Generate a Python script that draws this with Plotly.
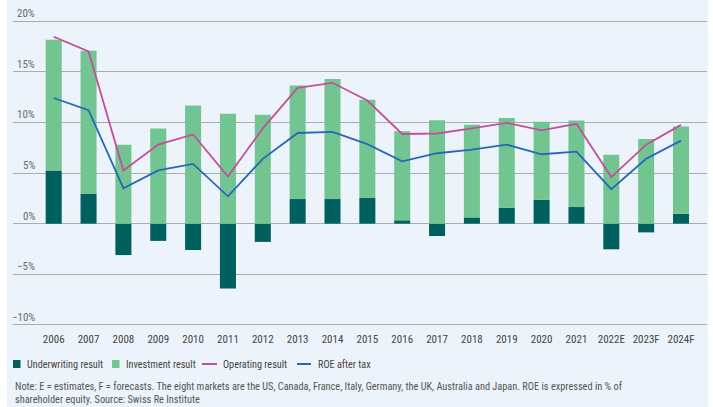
import plotly.graph_objects as go

years = ["2006", "2007", "2008", "2009", "2010", "2011", "2012", "2013", "2014", "2015",
         "2016", "2017", "2018", "2019", "2020", "2021", "2022E", "2023F", "2024F"]
underwriting = [5.25, 2.96, -3.1, -1.7, -2.6, -6.4, -1.8, 2.43, 2.43, 2.53,
                0.33, -1.22, 0.62, 1.57, 2.36, 1.64, -2.53, -0.86, 0.98]
investment = [12.9, 14.1, 7.8, 9.4, 11.65, 10.85, 10.75, 11.2, 11.85, 9.7,
              8.8, 10.2, 9.15, 8.85, 7.7, 8.55, 6.8, 8.35, 8.6]
operating = [18.45, 17.0, 5.25, 7.8, 8.8, 4.65, 9.4, 13.4, 13.9, 12.15,
             8.85, 8.9, 9.4, 9.95, 9.2, 9.85, 4.6, 7.8, 9.75]
roe = [12.4, 11.2, 3.5, 5.25, 5.9, 2.7, 6.4, 8.95, 9.05, 7.85,
       6.15, 6.95, 7.3, 7.8, 6.85, 7.1, 3.4, 6.4, 8.2]

y_ticks = [20, 15, 10, 5, 0, -5, -10]
y_tick_labels = ["20%", "15%", "10%", "5%", "0%", "\u22125%", "\u221210%"]

series_names = ["Underwriting result", "Investment result", "Operating result", "ROE after tax"]
note = ("Note: E = estimates, F = forecasts. The eight markets are the US, Canada, France, Italy, "
        "Germany, the UK, Australia and Japan. ROE is expressed in % of<br>"
        "shareholder equity. Source: Swiss Re Institute")

C_UW = "#00605D"
C_INV = "#72C591"
C_OP = "#C2509C"
C_ROE = "#2469B8"
BG = "#ECF3FB"
FONT = "Roboto Condensed, Liberation Sans Narrow, Arial Narrow, sans-serif"

W, H = 713, 407
ML, MR, MT, MB = 13, 6, 20, 81
PW = W - ML - MR
PH = H - MT - MB


def px_x(p):
    return (p - ML) / PW


def px_y(p):
    return (H - MB - p) / PH


fig = go.Figure()
fig.add_trace(go.Bar(x=years, y=underwriting, name=series_names[0], marker_color=C_UW,
                     marker_line_width=0, showlegend=False))
fig.add_trace(go.Bar(x=years, y=investment, name=series_names[1], marker_color=C_INV,
                     marker_line_width=0, showlegend=False))
fig.add_trace(go.Scatter(x=years, y=operating, name=series_names[2], mode="lines",
                         line=dict(color=C_OP, width=1.8), showlegend=False))
fig.add_trace(go.Scatter(x=years, y=roe, name=series_names[3], mode="lines",
                         line=dict(color=C_ROE, width=1.8), showlegend=False))

shapes = [
    dict(type="rect", xref="paper", yref="paper", x0=px_x(7), x1=px_x(708),
         y0=px_y(H), y1=px_y(0), fillcolor=BG, line_width=0, layer="below"),
]
annotations = []
for v, t in zip(y_ticks, y_tick_labels):
    annotations.append(dict(x=px_x(37), xref="paper", y=v, yref="y", text=t,
                            showarrow=False, xanchor="right", yanchor="bottom", yshift=-1,
                            font=dict(size=11, color="#6A6A6A", family=FONT)))

# legend
leg_y = 364
legend_items = [
    ("rect", C_UW, 13, 20.5, 25),
    ("rect", C_INV, 112, 119.5, 124),
    ("line", C_OP, 202, 217, 221),
    ("line", C_ROE, 297, 311, 316),
]
for (kind, col, a, b, tx), name in zip(legend_items, series_names):
    if kind == "rect":
        shapes.append(dict(type="rect", xref="paper", yref="paper", x0=px_x(a), x1=px_x(b),
                           y0=px_y(leg_y + 4), y1=px_y(leg_y - 4), fillcolor=col, line_width=0))
    else:
        shapes.append(dict(type="line", xref="paper", yref="paper", x0=px_x(a), x1=px_x(b),
                           y0=px_y(leg_y), y1=px_y(leg_y), line=dict(color=col, width=2)))
    annotations.append(dict(x=px_x(tx), xref="paper", y=px_y(leg_y), yref="paper", text=name,
                            showarrow=False, xanchor="left", yanchor="middle",
                            font=dict(size=10.2, color="#444444", family=FONT)))

annotations.append(dict(x=px_x(13), xref="paper", y=px_y(378), yref="paper", text=note,
                        showarrow=False, xanchor="left", yanchor="top", align="left",
                        font=dict(size=10.3, color="#555555", family=FONT)))

fig.update_layout(
    width=W, height=H,
    margin=dict(l=ML, r=MR, t=MT, b=MB),
    barmode="relative",
    bargap=0.54,
    paper_bgcolor="white",
    plot_bgcolor="rgba(0,0,0,0)",
    font=dict(family=FONT, size=11, color="#444444"),
    shapes=shapes,
    annotations=annotations,
    xaxis=dict(range=[-1.168, 18.746], showgrid=False, zeroline=False, showline=False,
               ticks="", ticklabelstandoff=5, tickfont=dict(size=11, color="#444444")),
    yaxis=dict(range=[-10.1, 20.1], tickvals=y_ticks, showticklabels=False, showgrid=True,
               gridcolor="#A9ACB0", gridwidth=1, zeroline=False, showline=False),
)

fig.write_html("out.html", config={"displayModeBar": False},
               post_script="document.body.style.margin='0';")
